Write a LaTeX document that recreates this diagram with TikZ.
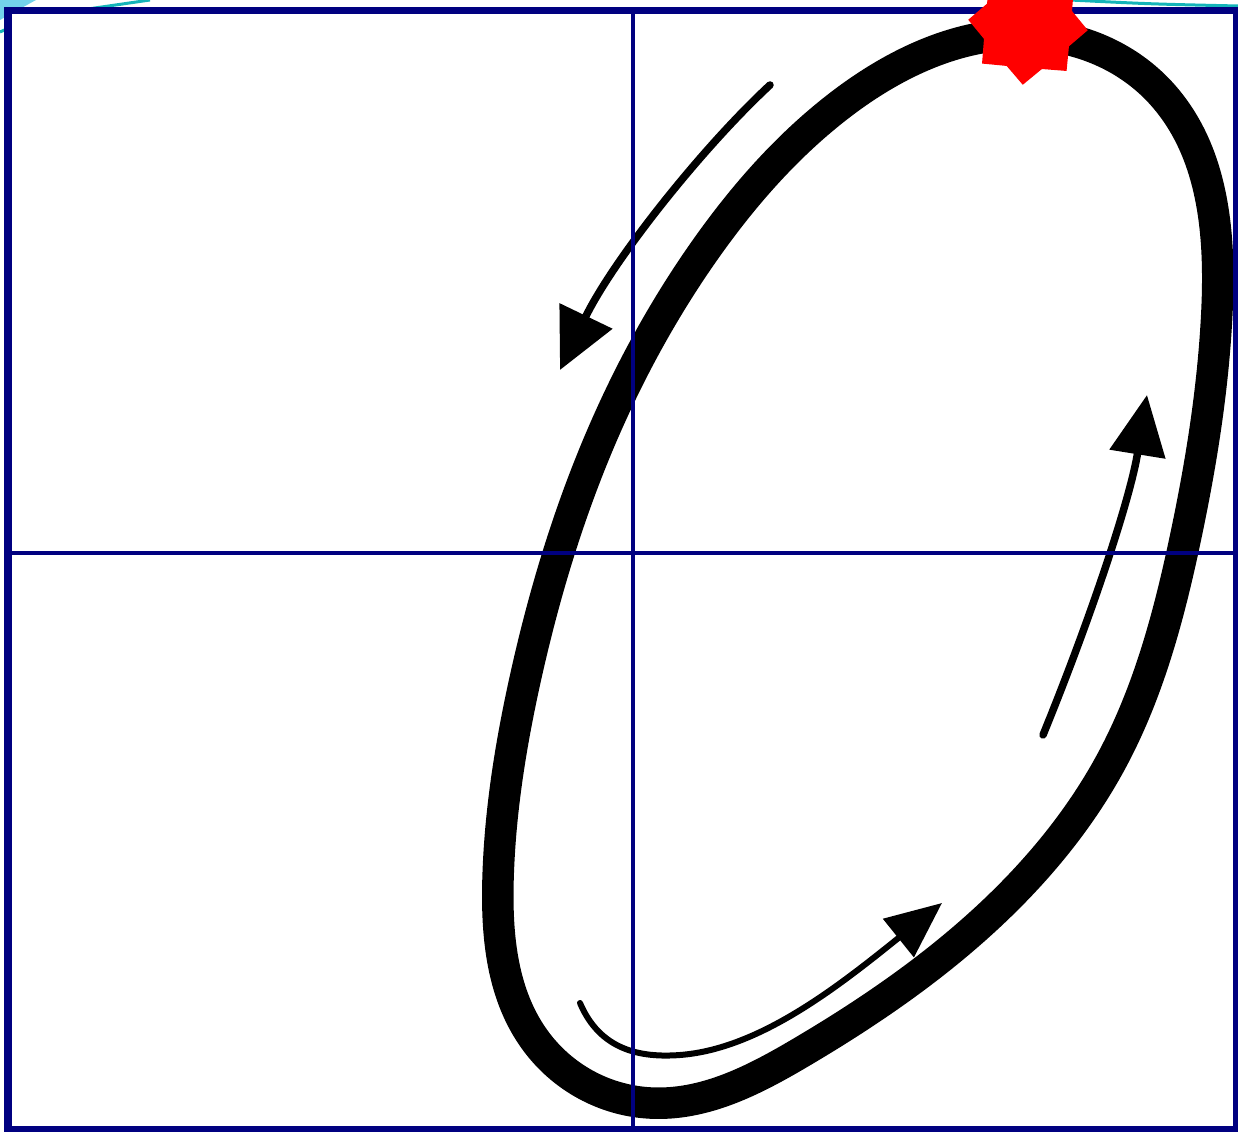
\documentclass[tikz,border=0pt]{standalone}
\usepackage{tikz}
\usetikzlibrary{arrows.meta, shapes.geometric, hobby}
\definecolor{framenavy}{RGB}{0,0,128}
\definecolor{swoosh}{RGB}{20,180,185}
\definecolor{swooshfill}{RGB}{115,210,235}

\begin{document}
\begin{tikzpicture}[
    x=0.2mm, y=-0.2mm,
    loop/.style={line width=6.3mm, line join=round},
    flow/.style={line width=1.5mm, line cap=round},
    gridline/.style={framenavy, line width=0.9mm},
    swoosh line/.style={swoosh, line width=0.6mm}
]
\useasboundingbox (0,0) rectangle (1238,1132);

% background swooshes of the slide
\fill[swooshfill] (0,0) -- (36,0) -- (0,20) -- cycle;
\draw[swoosh line] (0,32) -- (40,14);
\draw[swoosh line] (88,9) -- (150,0);
\draw[swoosh line] (1070,0) .. controls (1150,4) .. (1238,6);

% panel
\fill[white] (8,11) rectangle (1236,1129);

% the loop
\draw[loop, use Hobby shortcut, closed=true]
    (1040,35) .. (1160,92) .. (1217,310) .. (1185,540) .. (1112,760)
    .. (990,915) .. (800,1053) .. (650,1103) .. (535,1040) .. (498,880)
    .. (525,680) .. (600,440) .. (705,250) .. (840,105);

% direction arrows
\coordinate (a1s) at (770,85);
\coordinate (a1e) at (560,370);
\coordinate (a2s) at (1043,735);
\coordinate (a2e) at (1147,395);
\coordinate (a3s) at (580,1003);
\coordinate (a3m) at (680,1055);
\coordinate (a3e) at (942,903);

\draw[flow, -{Triangle[length=12mm, width=11.4mm]}]
    (a1s) .. controls (700,150) and (612,262) .. (a1e);
\draw[flow, -{Triangle[length=12mm, width=11mm]}]
    (a2s) .. controls (1090,620) and (1130,500) .. (a2e);
\draw[flow, line width=1.2mm, -{Triangle[length=11.2mm, width=9.6mm]}]
    (a3s) .. controls (600,1050) and (640,1058) .. (a3m)
    .. controls (760,1049) and (840,985) .. (a3e);

% axes
\coordinate (xl) at (8,553);
\coordinate (xr) at (1236,553);
\coordinate (yt) at (633,11);
\coordinate (yb) at (633,1129);
\draw[gridline] (xl) -- (xr);
\draw[gridline] (yt) -- (yb);

% frame
\draw[framenavy, line width=1.4mm] (8,11) rectangle (1236,1129);

% marker
\node[star, star points=8, star point ratio=1.3, fill=red, inner sep=0pt,
      minimum size=24mm, shape border rotate=-5] (mark) at (1028,25) {};
\end{tikzpicture}
\end{document}
